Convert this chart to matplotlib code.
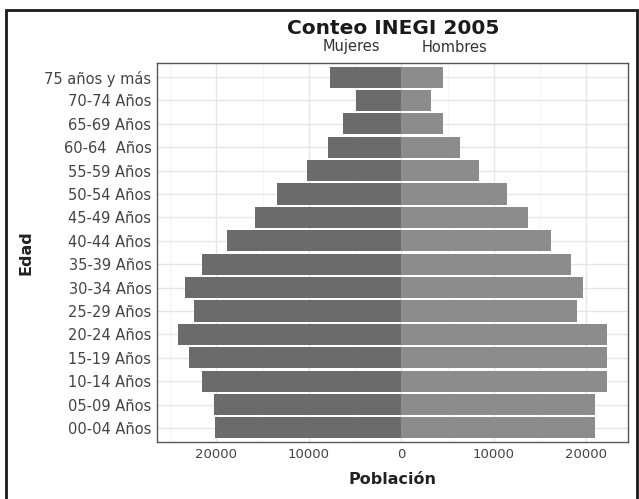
import matplotlib
matplotlib.use("Agg")
import matplotlib.pyplot as plt
import numpy as np
from matplotlib.patches import Rectangle

plt.rcParams['font.family'] = ['DejaVu Sans']

categories = ["00-04 Años", "05-09 Años", "10-14 Años", "15-19 Años", "20-24 Años",
              "25-29 Años", "30-34 Años", "35-39 Años", "40-44 Años", "45-49 Años",
              "50-54 Años", "55-59 Años", "60-64  Años", "65-69 Años", "70-74 Años",
              "75 años y más"]
mujeres = [20100, 20300, 21600, 23000, 24100, 22400, 23400, 21600, 18800, 15800,
           13400, 10200, 7900, 6300, 4900, 7700]
hombres = [20900, 20900, 22200, 22200, 22200, 19000, 19600, 18400, 16200, 13700,
           11400, 8400, 6300, 4500, 3200, 4500]
xticks = [-20000, -10000, 0, 10000, 20000]
xticklabels = ["20000", "10000", "0", "10000", "20000"]

W, H = 639, 499
fig = plt.figure(figsize=(W/100, H/100), dpi=100)
ax = fig.add_axes([157/W, 1-442/H, (628-157)/W, (442-63)/H])

y = np.arange(len(categories))
ax.barh(y, [-v for v in mujeres], height=0.9, color="#6b6b6b", zorder=3)
ax.barh(y, hombres, height=0.9, color="#8c8c8c", zorder=3)

lo = -max(mujeres); hi = max(hombres)
rng = hi - lo
ax.set_xlim(lo - 0.05*rng, hi + 0.05*rng)
ax.set_ylim(-0.6, len(categories) - 0.4)

ax.set_xticks(xticks)
ax.set_xticklabels(xticklabels, fontsize=9.5, color="#444444")
ax.set_xticks([-25000, -15000, -5000, 5000, 15000], minor=True)
ax.set_yticks(y)
ax.set_yticklabels(categories, fontsize=10.5, color="#444444")
ax.tick_params(axis='both', which='both', length=0, pad=4)
ax.grid(True, which='major', color="#e6e6e6", linewidth=1.0, zorder=0)
ax.grid(True, which='minor', axis='x', color="#f2f2f2", linewidth=0.6, zorder=0)
ax.set_axisbelow(True)
for s in ax.spines.values():
    s.set_color("#555555")
    s.set_linewidth(1.0)

ax.set_xlabel("Población", fontsize=11.5, fontweight='bold', color="#222222", labelpad=8)
ax.set_ylabel("Edad", fontsize=11.5, fontweight='bold', color="#222222", labelpad=8)

fig.text(393/W, 1-28/H, "Conteo INEGI 2005", fontsize=14.5, fontweight='bold',
         ha='center', va='center', color="#1a1a1a")
fig.text(351/W, 1-47/H, "Mujeres", fontsize=10.5, ha='center', va='center', color="#333333")
fig.text(455/W, 1-47/H, "Hombres", fontsize=10.5, ha='center', va='center', color="#333333")

fig.patches.append(Rectangle((6/W, -0.02), (637-6)/W, 1-10/H + 0.02, transform=fig.transFigure,
                             fill=False, edgecolor="#1a1a1a", linewidth=2.0))

fig.savefig("out.png", dpi=100)
